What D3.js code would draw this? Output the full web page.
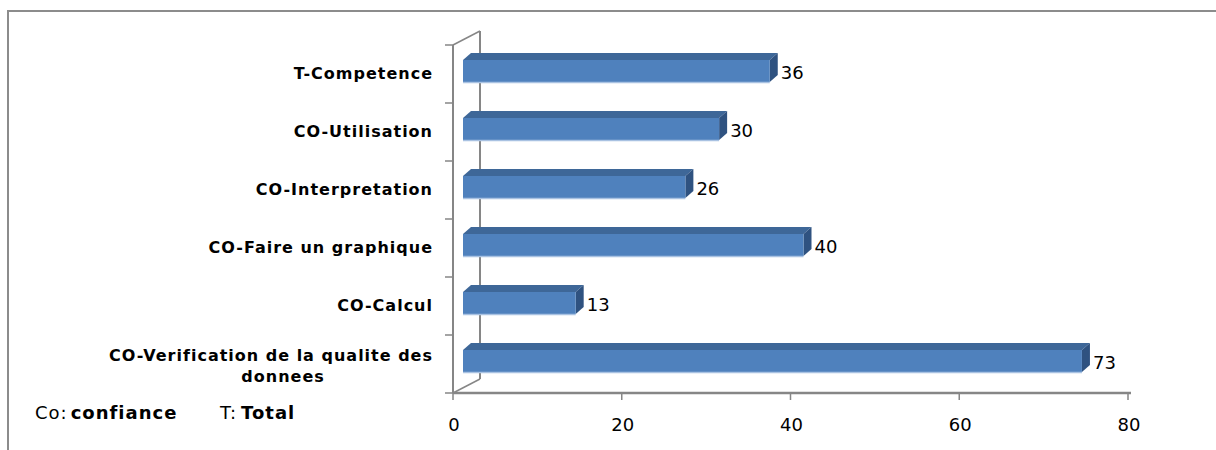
<!DOCTYPE html>
<html>
<head>
<meta charset="utf-8">
<script src="https://cdn.jsdelivr.net/npm/d3@7/dist/d3.min.js"></script>
<style>
html,body{margin:0;padding:0;background:#fff;}
svg{display:block;}
</style>
</head>
<body>
<svg id="chart" width="1216" height="450"></svg>
<script>
const categories = [
  "T-Competence",
  "CO-Utilisation",
  "CO-Interpretation",
  "CO-Faire un graphique",
  "CO-Calcul",
  "CO-Verification de la qualite des donnees"
];
const categoryLines = [
  ["T-Competence"],
  ["CO-Utilisation"],
  ["CO-Interpretation"],
  ["CO-Faire un graphique"],
  ["CO-Calcul"],
  ["CO-Verification de la qualite des", "donnees"]
];
const values = [36, 30, 26, 40, 13, 73];
const xTicks = [0, 20, 40, 60, 80];
const xTickLabels = ["0", "20", "40", "60", "80"];

const svg = d3.select("#chart");
const W = 1216, H = 450;
const labelFont = "'DejaVu Sans', Verdana, sans-serif";

// frame
svg.append("path")
  .attr("d", `M8,${H} L8,11 L${W},11`)
  .attr("fill", "none").attr("stroke", "#8c8c8c").attr("stroke-width", 2);

const axisColor = "#868686";
const x = d3.scaleLinear().domain([0, 80]).range([453, 1128]);
const y = d3.scaleBand().domain(categories).range([45, 393]).paddingInner(0).paddingOuter(0);
const depthX = 27, depthY = -14;

// back wall lines
const g = svg.append("g");
g.append("line").attr("x1", x(0) + depthX).attr("x2", x(0) + depthX)
  .attr("y1", 45 + depthY).attr("y2", 393 + depthY)
  .attr("stroke", axisColor).attr("stroke-width", 2);
g.append("line").attr("x1", x(0)).attr("y1", 45).attr("x2", x(0) + depthX).attr("y2", 45 + depthY)
  .attr("stroke", axisColor).attr("stroke-width", 1.5);
g.append("line").attr("x1", x(0)).attr("y1", 393).attr("x2", x(0) + depthX).attr("y2", 393 + depthY)
  .attr("stroke", axisColor).attr("stroke-width", 1.5);

// bars
const bx = 13, bdx = 8, bdy = -7;
const bars = svg.append("g").selectAll("g.bar").data(categories).join("g");
bars.each(function(c, i) {
  const sel = d3.select(this);
  const v = values[i];
  const cy = y(c) + y.bandwidth() / 2;
  const x0 = x(0) + 10, x1 = x(v) + bx;
  const yt = cy - 14, yb = cy + 8;
  sel.append("path")
    .attr("d", `M${x0},${yt} L${x0 + bdx},${yt + bdy} L${x1 + bdx},${yt + bdy} L${x1},${yt} Z`)
    .attr("fill", "#3e6798");
  sel.append("path")
    .attr("d", `M${x1},${yt} L${x1 + bdx},${yt + bdy} L${x1 + bdx},${yb + bdy} L${x1},${yb} Z`)
    .attr("fill", "#2f5280");
  sel.append("rect").attr("x", x0).attr("y", yt).attr("width", x1 - x0).attr("height", yb - yt)
    .attr("fill", "#4f81bd");
  sel.append("line").attr("x1", x0).attr("x2", x1).attr("y1", yb + 0.5).attr("y2", yb + 0.5)
    .attr("stroke", "#a9c2e2").attr("stroke-width", 1.5);
  sel.append("text")
    .attr("x", x1 + bdx + 3).attr("y", cy + 5)
    .attr("font-family", labelFont)
    .attr("font-size", 18).attr("fill", "#000")
    .text(v);
});

// left axis (front)
svg.append("line").attr("x1", x(0)).attr("x2", x(0)).attr("y1", 45).attr("y2", 393)
  .attr("stroke", axisColor).attr("stroke-width", 2);
const yTickPos = categories.map(c => y(c)).concat([393]);
svg.append("g").selectAll("line").data(yTickPos).join("line")
  .attr("x1", x(0) - 8).attr("x2", x(0)).attr("y1", d => d).attr("y2", d => d)
  .attr("stroke", axisColor).attr("stroke-width", 1.5);

// bottom axis
svg.append("line").attr("x1", x(0)).attr("x2", x(80) + 3).attr("y1", 393).attr("y2", 393)
  .attr("stroke", axisColor).attr("stroke-width", 2.5);
svg.append("g").selectAll("line").data(xTicks).join("line")
  .attr("x1", d => x(d)).attr("x2", d => x(d)).attr("y1", 393).attr("y2", 400)
  .attr("stroke", axisColor).attr("stroke-width", 1.5);
svg.append("g").selectAll("text").data(xTicks).join("text")
  .attr("x", d => x(d) + 1).attr("y", 431).attr("text-anchor", "middle")
  .attr("font-family", labelFont).attr("font-size", 18)
  .text((d, i) => xTickLabels[i]);

// category labels
const labelRight = 433;
const catSize = 16;
const catSpacing = 1;
const lg = svg.append("g");
categories.forEach((c, i) => {
  const lines = categoryLines[i];
  const cy = y(c) + y.bandwidth() / 2;
  const t = lg.append("text")
    .attr("font-family", labelFont).attr("font-weight", "bold")
    .attr("font-size", catSize).attr("letter-spacing", catSpacing).attr("fill", "#000");
  if (lines.length === 1) {
    t.attr("x", labelRight).attr("y", cy + 5).attr("text-anchor", "end").text(lines[0]);
  } else {
    const tmp = lg.append("text").attr("font-family", labelFont)
      .attr("font-weight", "bold").attr("font-size", catSize)
      .attr("letter-spacing", catSpacing).text(lines[0]);
    const w = tmp.node().getComputedTextLength();
    tmp.remove();
    const cx = labelRight - w / 2;
    t.attr("text-anchor", "middle");
    lines.forEach((ln, k) => {
      t.append("tspan").attr("x", cx + k * 12).attr("y", cy - 3 + k * 21).text(ln);
    });
  }
});

// note
const note = svg.append("text").attr("x", 35).attr("y", 419)
  .attr("font-family", labelFont).attr("font-size", 18).attr("letter-spacing", 1).attr("fill", "#000");
note.append("tspan").text("Co:");
note.append("tspan").attr("dx", 3).attr("font-weight", "bold").text("confiance");
const note2 = svg.append("text").attr("x", 220).attr("y", 419)
  .attr("font-family", labelFont).attr("font-size", 18).attr("letter-spacing", 1).attr("fill", "#000");
note2.append("tspan").text("T:");
note2.append("tspan").attr("dx", 4).attr("font-weight", "bold").text("Total");
</script>
</body>
</html>
